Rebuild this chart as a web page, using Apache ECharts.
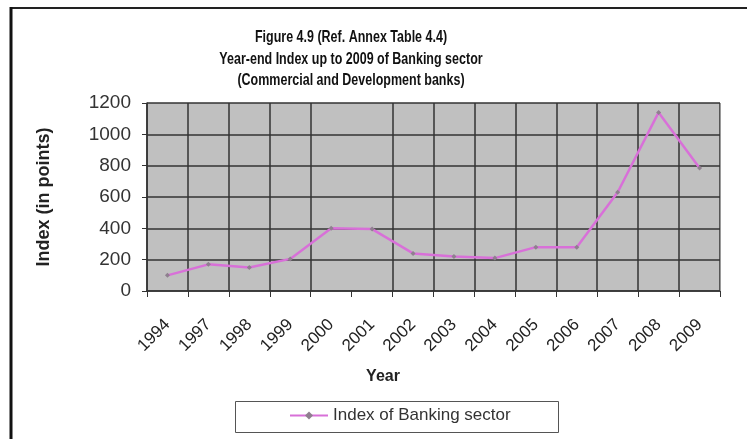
<!DOCTYPE html>
<html>
<head>
<meta charset="utf-8">
<script src="https://cdn.jsdelivr.net/npm/echarts@6/dist/echarts.min.js"></script>
<style>
html,body{margin:0;padding:0;background:#fff;}
#chart{width:747px;height:439px;}
</style>
</head>
<body>
<div id="chart"></div>
<script>
const categories = ['1994','1997','1998','1999','2000','2001','2002','2003','2004','2005','2006','2007','2008','2009'];
const indexValues = [100, 170, 150, 205, 400, 395, 240, 220, 210, 280, 280, 630, 1140, 785];
const yTicks = [0, 200, 400, 600, 800, 1000, 1200];
const titleLines = ['Figure 4.9 (Ref. Annex Table 4.4)', 'Year-end Index up to 2009 of Banking sector', '(Commercial and Development banks)'];
const seriesName = 'Index of Banking sector';
const xAxisTitle = 'Year';

const chart = echarts.init(document.getElementById('chart'));
const font = 'Arial, "Liberation Sans", sans-serif';
const titleY = [38, 60, 81];

function titleText(i) {
  return { type: 'text', x: 351, y: titleY[i], scaleY: 1.3,
    style: { text: titleLines[i], font: 'bold 12.5px ' + font, fill: '#111', textAlign: 'center', textVerticalAlign: 'middle' } };
}

chart.setOption({
  backgroundColor: '#ffffff',
  animation: false,
  textStyle: { fontFamily: font },
  grid: { left: 147, right: 27, top: 103, bottom: 148, containLabel: false },
  legend: {
    left: 289, top: 407,
    itemWidth: 38, itemHeight: 10, itemGap: 2,
    padding: 0,
    textStyle: { fontSize: 17, color: '#333', fontFamily: font },
    data: [seriesName]
  },
  xAxis: {
    type: 'category',
    data: categories,
    boundaryGap: true,
    axisLine: { show: true, lineStyle: { color: '#333', width: 1.5 } },
    axisTick: { show: true, alignWithLabel: false, length: 6, lineStyle: { color: '#333' } },
    axisLabel: { rotate: 45, fontSize: 17, color: '#222', margin: 31, interval: 0, fontFamily: font },
    splitLine: { show: true, interval: function (i) { return i !== 5; }, lineStyle: { color: '#333', width: 1.5 } }
  },
  yAxis: {
    type: 'value',
    min: 0, max: 1200, interval: 200,
    name: 'Index (in points)',
    nameLocation: 'middle',
    nameGap: 94,
    nameRotate: 90,
    nameTextStyle: { fontSize: 18, fontWeight: 'bold', color: '#222', fontFamily: font },
    axisLine: { show: true, lineStyle: { color: '#333', width: 1.5 } },
    axisTick: { show: true, length: 5, lineStyle: { color: '#333' } },
    axisLabel: { fontSize: 19, color: '#333', margin: 16, fontFamily: font,
      formatter: function (v) { return yTicks.indexOf(v) >= 0 ? String(v) : ''; } },
    splitLine: { show: true, lineStyle: { color: '#333', width: 1.5 } },
    splitArea: { show: true, areaStyle: { color: ['#c0c0c0', '#c0c0c0'] } }
  },
  series: [{
    name: seriesName,
    type: 'line',
    data: indexValues,
    symbol: 'diamond',
    symbolSize: 5,
    showSymbol: true,
    lineStyle: { color: '#d870d8', width: 2.5 },
    itemStyle: { color: '#8f7f8f', borderWidth: 0 }
  }],
  graphic: [
    { type: 'line', shape: { x1: 10, y1: 8, x2: 747, y2: 8 }, style: { stroke: '#222', lineWidth: 2 }, z: 10 },
    { type: 'line', shape: { x1: 11, y1: 7, x2: 11, y2: 439 }, style: { stroke: '#111', lineWidth: 3 }, z: 10 },
    { type: 'rect', shape: { x: 235.5, y: 401.5, width: 323, height: 31 }, style: { fill: 'none', stroke: '#555', lineWidth: 1 }, z: 1 },
    { type: 'line', shape: { x1: 720.5, y1: 103, x2: 720.5, y2: 291 }, style: { stroke: '#9a9a9a', lineWidth: 1 }, z: 10 },
    titleText(0), titleText(1), titleText(2),
    { type: 'text', x: 383, y: 377, style: { text: xAxisTitle, font: 'bold 16px ' + font, fill: '#222', textAlign: 'center', textVerticalAlign: 'middle' } }
  ]
});
</script>
</body>
</html>
